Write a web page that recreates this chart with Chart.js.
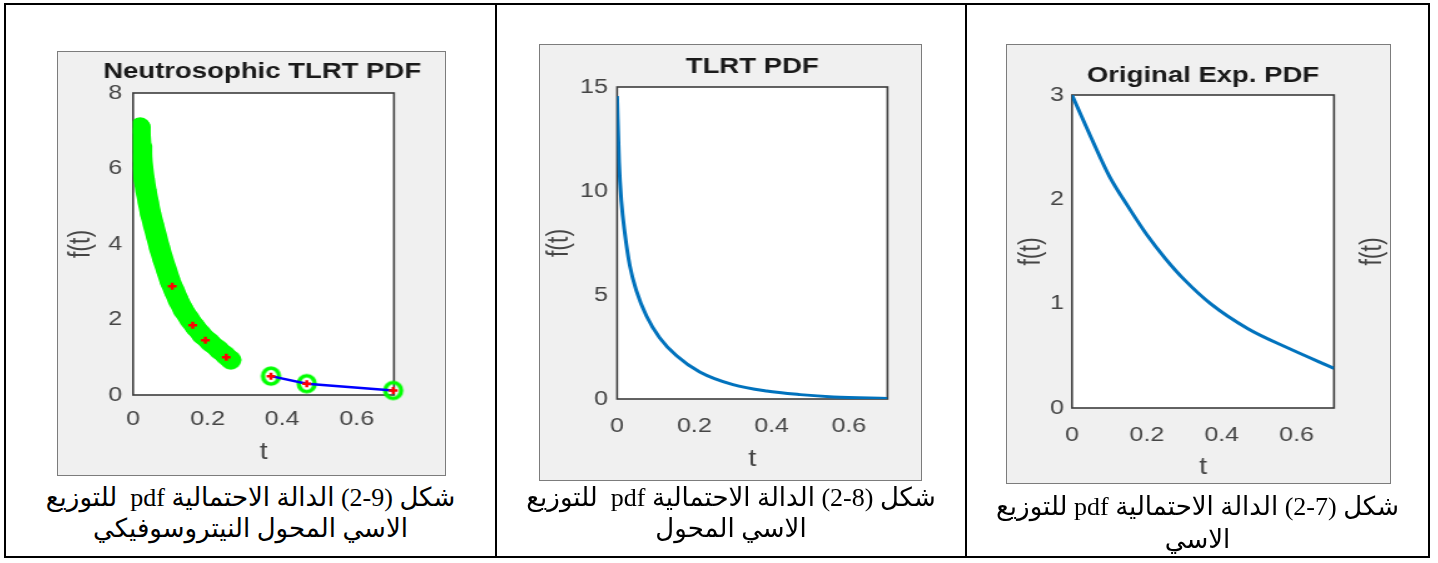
<!DOCTYPE html>
<html>
<head>
<meta charset="utf-8">
<script src="https://cdn.jsdelivr.net/npm/chart.js@4.4.1/dist/chart.umd.min.js"></script>
<style>
  body { margin: 0; background: #fff; width: 1438px; height: 563px; position: relative; overflow: hidden; }
  .frame { position: absolute; left: 4px; top: 3px; width: 1426px; height: 555px; border: 2px solid #000; box-sizing: border-box; }
  .col { position: absolute; top: 3px; width: 2px; height: 555px; background: #000; }
  .fig { position: absolute; background: #f0f0f0; border: 1px solid #7c7c7c; box-sizing: border-box; }
  .fig canvas { position: absolute; left: -1px; top: -1px; }
  .cap { position: absolute; direction: rtl; text-align: center; color: #000;
         font-family: "Liberation Serif", "DejaVu Sans", serif; font-size: 26px; line-height: 31px; }
</style>
</head>
<body>
<div class="frame"></div>
<div class="col" style="left:495px"></div>
<div class="col" style="left:965px"></div>

<div class="fig" style="left:57px;top:51px;width:389px;height:425px">
  <canvas id="c1" width="311" height="425" style="width:389px;height:425px"></canvas>
</div>
<div class="fig" style="left:539px;top:44px;width:383px;height:437px">
  <canvas id="c2" width="306" height="437" style="width:383px;height:437px"></canvas>
</div>
<div class="fig" style="left:1006px;top:44px;width:385px;height:440px">
  <canvas id="c3" width="308" height="440" style="width:385px;height:440px"></canvas>
</div>

<div class="cap" id="cap1" style="left:6px;top:482px;width:489px"></div>
<div class="cap" id="cap2" style="left:497px;top:482px;width:468px"></div>
<div class="cap" id="cap3" style="left:967px;top:490px;width:461px;line-height:33px"></div>

<script>
// ---- data ----
const titles = ['Neutrosophic TLRT PDF', 'TLRT PDF', 'Original Exp. PDF'];
// numbers after Arabic text are laid out right-to-left, so "9-2" shows as "2-9"
const captions = [
  ['شكل (9-2) الدالة الاحتمالية pdf\u00a0 للتوزيع', 'الاسي المحول النيتروسوفيكي'],
  ['شكل (8-2) الدالة الاحتمالية pdf\u00a0 للتوزيع', 'الاسي المحول'],
  ['شكل (7-2) الدالة الاحتمالية pdf للتوزيع', 'الاسي']
];

const xTicks = [0, 0.2, 0.4, 0.6];
const yTicks1 = [0, 2, 4, 6, 8];
const yTicks2 = [0, 5, 10, 15];
const yTicks3 = [0, 1, 2, 3];

// neutrosophic band (green circles)
const bandT = [0.019, 0.019, 0.021, 0.023, 0.026, 0.030, 0.035, 0.041, 0.047, 0.055, 0.063, 0.071, 0.080,
               0.090, 0.100, 0.111, 0.122, 0.135, 0.152, 0.167, 0.184, 0.206, 0.230, 0.248, 0.262];
const bandF = [7.1, 6.9, 6.6, 6.3, 6.0, 5.7, 5.4, 5.1, 4.8, 4.5, 4.2, 3.9, 3.6,
               3.3, 3.0, 2.75, 2.5, 2.25, 2.0, 1.8, 1.6, 1.4, 1.2, 1.05, 0.93];
// separate points joined by the blue line
const nodeT = [0.37, 0.466, 0.698];
const nodeF = [0.5, 0.3, 0.12];
// red markers
const redT = [0.105, 0.16, 0.194, 0.25, 0.37, 0.466, 0.698];
const redF = [2.88, 1.85, 1.45, 1.0, 0.5, 0.3, 0.12];

// TLRT pdf
const tlrtT = [0, 0.005, 0.011, 0.02, 0.033, 0.05, 0.076, 0.11, 0.154, 0.214, 0.3, 0.387, 0.474, 0.56, 0.7];
const tlrtF = [14.56, 11.4, 9.5, 7.97, 6.4, 5.2, 3.99, 2.95, 2.08, 1.3, 0.69, 0.38, 0.21, 0.1, 0.03];

// original exponential pdf
const expT = [0, 0.05, 0.1, 0.15, 0.2, 0.25, 0.3, 0.37, 0.47, 0.58, 0.7];
const expF = [3.0, 2.6, 2.22, 1.93, 1.66, 1.43, 1.23, 1.0, 0.76, 0.57, 0.38];

// ---- helpers ----
const SX = 1.25;  // the figures are stretched horizontally
const FONT = "'Liberation Sans', Arial, sans-serif";
const GREY = '#454545';

const pts = (xs, ys) => xs.map((x, i) => ({x: x, y: ys[i]}));

function ring(color, r, lw) {
  const c = document.createElement('canvas');
  const rx = r / SX, ry = r;
  c.width = Math.ceil(2 * rx + lw + 2);
  c.height = Math.ceil(2 * ry + lw + 2);
  const g = c.getContext('2d');
  g.strokeStyle = color;
  g.lineWidth = lw;
  g.beginPath();
  g.ellipse(c.width / 2, c.height / 2, rx, ry, 0, 0, Math.PI * 2);
  g.stroke();
  return c;
}

const plotFrame = {
  id: 'plotFrame',
  beforeDatasetsDraw(chart) {
    const {ctx, chartArea: a} = chart;
    ctx.save();
    ctx.fillStyle = '#ffffff';
    ctx.fillRect(a.left, a.top, a.width, a.height);
    ctx.strokeStyle = '#3c3c3c';
    ctx.lineWidth = 1.6;
    ctx.strokeRect(a.left, a.top, a.width, a.height);
    ctx.restore();
  }
};

// label on the right edge, same orientation as the left one
const sideLabel = {
  id: 'sideLabel',
  afterDraw(chart, args, opts) {
    if (!opts.text) return;
    const s = chart.scales.y2, a = chart.chartArea, ctx = chart.ctx;
    ctx.save();
    ctx.translate(s.right - opts.offset, (a.top + a.bottom) / 2);
    ctx.rotate(-Math.PI / 2);
    ctx.font = '23px ' + FONT;
    ctx.fillStyle = GREY;
    ctx.textAlign = 'center';
    ctx.textBaseline = 'middle';
    ctx.fillText(opts.text, 0, 0);
    ctx.restore();
  }
};

function makeChart(id, c) {
  return new Chart(document.getElementById(id), {
    type: 'scatter',
    data: {datasets: c.datasets},
    options: {
      responsive: false,
      animation: false,
      devicePixelRatio: 1,
      layout: {padding: {left: c.padLeft || 0, top: 0, bottom: 0, right: 0}},
      plugins: {
        legend: {display: false},
        tooltip: {enabled: false},
        title: {
          display: true, text: c.title, fullSize: !!c.titleFull, color: '#1a1a1a',
          font: {family: FONT, size: 22, weight: 'bold', lineHeight: 1.2},
          padding: {top: c.titleTop, bottom: c.titleBottom}
        },
        sideLabel: {text: c.rightLabel, offset: 14.4}
      },
      scales: {
        x: {
          type: 'linear', min: 0, max: 0.7,
          grid: {display: false, drawTicks: false}, border: {display: false},
          afterBuildTicks: s => { s.ticks = xTicks.map(v => ({value: v})); },
          afterFit: s => { s.height = c.bottom; },
          ticks: {color: GREY, font: {family: FONT, size: 20}, padding: c.xTickPad, maxRotation: 0,
                  autoSkip: false, callback: v => String(v)},
          title: {display: true, text: 't', color: GREY, font: {family: FONT, size: 23},
                  padding: {top: 0, bottom: c.xTitlePad}}
        },
        y: {
          type: 'linear', min: 0, max: c.yTicks[c.yTicks.length - 1],
          grid: {display: false, drawTicks: false}, border: {display: false},
          afterBuildTicks: s => { s.ticks = c.yTicks.map(v => ({value: v})); },
          afterFit: s => { s.width = c.left - (c.padLeft || 0); },
          ticks: {color: GREY, font: {family: FONT, size: 20}, padding: c.yTickPad, callback: v => String(v)},
          title: {display: true, text: 'f(t)', color: GREY, font: {family: FONT, size: 23},
                  padding: {top: c.yTitlePad, bottom: 0}}
        },
        y2: {
          type: 'linear', position: 'right', min: 0, max: 1,
          grid: {display: false, drawTicks: false}, border: {display: false},
          ticks: {display: false},
          afterFit: s => { s.width = c.right; }
        }
      }
    },
    plugins: [plotFrame, sideLabel]
  });
}

// ---- captions ----
captions.forEach((lines, i) => {
  document.getElementById('cap' + (i + 1)).innerHTML = lines.join('<br>');
});

// ---- charts ----
const greenRing = ring('#00ff00', 8, 3.5);

makeChart('c1', {
  title: titles[0], titleFull: true, padLeft: 17, yTicks: yTicks1,
  left: 60.8, right: 41.6, bottom: 81, titleTop: 7.8, titleBottom: 7.8,
  yTickPad: 8.8, yTitlePad: -10.8, xTickPad: 12, xTitlePad: 9.2,
  datasets: [
    {data: pts(redT, redF), pointStyle: 'cross', pointRadius: 3.5, pointBorderWidth: 2.5,
     borderColor: '#ff0000', backgroundColor: '#ff0000', clip: false, order: 0},
    {data: pts(nodeT, nodeF), showLine: true, borderColor: '#0000ff', borderWidth: 2.5,
     pointRadius: 0, clip: false, order: 1},
    {data: pts(nodeT, nodeF), pointStyle: greenRing, pointRadius: 8, clip: false, order: 2},
    {data: pts(bandT, bandF), showLine: true, borderColor: '#00ff00', borderWidth: 17,
     borderCapStyle: 'round', borderJoinStyle: 'round', pointStyle: greenRing, pointRadius: 8, order: 3}
  ]
});

makeChart('c2', {
  title: titles[1], yTicks: yTicks2,
  left: 62.4, right: 27.6, bottom: 82, titleTop: 9.8, titleBottom: 6.8,
  yTickPad: 7.4, yTitlePad: 3.2, xTickPad: 15, xTitlePad: 7.2,
  datasets: [
    {data: pts(tlrtT, tlrtF), showLine: true, borderColor: '#0072bd', borderWidth: 3,
     pointRadius: 0, cubicInterpolationMode: 'monotone'}
  ]
});

makeChart('c3', {
  title: titles[2], yTicks: yTicks3, rightLabel: 'f(t)',
  left: 52.8, right: 45.6, bottom: 76, titleTop: 18.8, titleBottom: 5.8,
  yTickPad: 6.4, yTitlePad: 7, xTickPad: 15, xTitlePad: 2.2,
  datasets: [
    {data: pts(expT, expF), showLine: true, borderColor: '#0072bd', borderWidth: 3,
     pointRadius: 0, cubicInterpolationMode: 'monotone'}
  ]
});
</script>
</body>
</html>
